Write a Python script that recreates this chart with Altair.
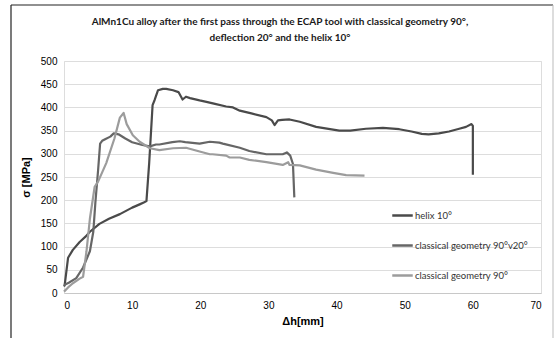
import altair as alt
import pandas as pd

# ---- data ----
helix_x = [0, 0.1, 0.6, 1.3, 2.3, 3.2, 3.8, 5.2, 6.6, 8.2, 10.0, 11.1, 11.7, 12.1, 12.5, 13.0, 13.3, 13.8,
           14.5, 15.0, 16.0, 16.8, 17.4, 17.9, 18.5, 19.9, 20.9, 22.0, 23.8, 24.8, 25.8, 27.5, 29.7, 30.5,
           30.9, 31.4, 32.0, 33.1, 34.6, 37.0, 40.4, 42.0, 44.3, 46.8, 49.2, 51.0, 52.5, 53.5, 55.0, 56.5,
           58.0, 59.0, 59.8, 60.0, 60.0]
helix_y = [14, 17, 76, 93, 110, 122, 132, 149, 160, 170, 184, 191, 195, 198, 280, 405, 416, 437,
           440, 440, 437, 433, 417, 423, 420, 415, 412, 408, 402, 400, 393, 387, 379, 372,
           362, 372, 373, 374, 369, 358, 350, 350, 354, 356, 353, 348, 343, 342, 344, 348,
           354, 358, 364, 360, 255]

c9020_x = [0, 0.7, 1.8, 2.8, 3.8, 4.3, 4.6, 5.0, 5.3, 5.6, 6.1, 6.8, 7.3, 7.7, 8.0, 9.0, 10.0, 11.5,
           12.6, 13.5, 14.0, 15.9, 17.0, 17.8, 19.9, 21.4, 22.8, 23.3, 25.8, 27.2, 29.7, 32.1, 32.7,
           33.2, 33.6, 33.8]
c9020_y = [17, 22, 32, 55, 90, 132, 194, 264, 322, 328, 332, 337, 344, 343, 342, 333, 325, 319,
           316, 320, 320, 325, 327, 325, 322, 326, 324, 322, 313, 306, 299, 299, 303,
           296, 278, 206]

c90_x = [0, 0.6, 1.3, 2.3, 2.8, 3.3, 3.8, 4.5, 5.0, 6.2, 7.4, 8.2, 8.75, 9.2, 10.1, 11.1, 12.6, 14.0,
         16.0, 17.9, 19.9, 21.4, 21.8, 23.8, 24.3, 25.8, 27.2, 29.7, 32.1, 32.9, 33.1, 34.6, 37.0,
         39.5, 41.4, 44.1]
c90_y = [3, 12, 21, 31, 35, 90, 160, 229, 240, 280, 333, 378, 388, 364, 340, 326, 312, 308,
         312, 313, 305, 299, 299, 296, 292, 292, 287, 282, 276, 282, 276, 275, 266,
         259, 254, 253]

series_names = ["helix 10°", "classical geometry 90°v20°", "classical geometry 90°"]
series_colors = ["#4a4a4a", "#666666", "#9c9c9c"]
x_ticks = [0, 10, 20, 30, 40, 50, 60, 70]
y_ticks = [0, 50, 100, 150, 200, 250, 300, 350, 400, 450, 500]
title_lines = ["AlMn1Cu alloy after the first pass through the ECAP tool  with classical geometry 90°,",
               "deflection 20° and the helix 10°"]

rows = []
for name, xs, ys in zip(series_names, [helix_x, c9020_x, c90_x], [helix_y, c9020_y, c90_y]):
    for i, (x, y) in enumerate(zip(xs, ys)):
        rows.append({"series": name, "dh": x, "sigma": y, "i": i})
df = pd.DataFrame(rows)

FONT = "Lato"
W, H = 477, 232

lines = alt.Chart(df).mark_line(strokeWidth=2.2, strokeJoin="round").encode(
    x=alt.X("dh:Q", scale=alt.Scale(domain=[0, 70], nice=False),
            axis=alt.Axis(values=x_ticks, title="Δh[mm]", grid=False, ticks=False,
                          domain=True, domainColor="#c8c8c8", labelPadding=7,
                          titlePadding=5)),
    y=alt.Y("sigma:Q", scale=alt.Scale(domain=[0, 500], nice=False),
            axis=alt.Axis(values=y_ticks, title="σ [MPa]", grid=True, ticks=False,
                          domain=False, labelPadding=7, titleX=-33, titleY=116,
                          titleAlign="center", titleBaseline="bottom")),
    color=alt.Color("series:N", sort=series_names,
                    scale=alt.Scale(domain=series_names, range=series_colors),
                    legend=alt.Legend(title=None, orient="none", legendX=327, legendY=143,
                                      symbolType="stroke", symbolSize=420,
                                      symbolStrokeWidth=2.5, labelFontSize=9.5,
                                      labelFont=FONT, labelColor="#333333",
                                      rowPadding=13, labelOffset=1)),
    order=alt.Order("i:Q"),
    detail="series:N",
)

frame_data = alt.Data(values=[{"k": 1}])
left_border = alt.Chart(frame_data).mark_rule(color="#222222", strokeWidth=1.2).encode(
    x=alt.value(-53), y=alt.value(-56), y2=alt.value(H + 60))
top_border = alt.Chart(frame_data).mark_rule(color="#222222", strokeWidth=1.2).encode(
    x=alt.value(-53), x2=alt.value(489), y=alt.value(-56))
right_border = alt.Chart(frame_data).mark_rule(color="#bbbbbb", strokeWidth=1).encode(
    x=alt.value(489), y=alt.value(-56), y2=alt.value(H + 60))

title1 = alt.Chart(frame_data).mark_text(
    text=title_lines[0], font=FONT, fontSize=10, fontWeight="bold", color="#1a1a1a",
    align="center", baseline="middle").encode(x=alt.value(216), y=alt.value(-39))
title2 = alt.Chart(frame_data).mark_text(
    text=title_lines[1], font=FONT, fontSize=10, fontWeight="bold", color="#1a1a1a",
    align="center", baseline="middle").encode(x=alt.value(216), y=alt.value(-23))

chart = alt.layer(lines, left_border, top_border, right_border, title1, title2).properties(
    width=W, height=H,
    autosize=alt.AutoSizeParams(type="none"),
    padding={"left": 64, "top": 61, "right": 15, "bottom": 45},
).configure_view(stroke=None).configure_axis(
    labelFont=FONT, labelFontSize=10, labelColor="#595959",
    titleFont=FONT, titleFontSize=11, titleFontWeight="bold", titleColor="#1a1a1a",
    gridColor="#d4d4d4", gridWidth=1,
).configure(background="white")

chart.save("out.html", embed_options={"renderer": "svg", "actions": False})
